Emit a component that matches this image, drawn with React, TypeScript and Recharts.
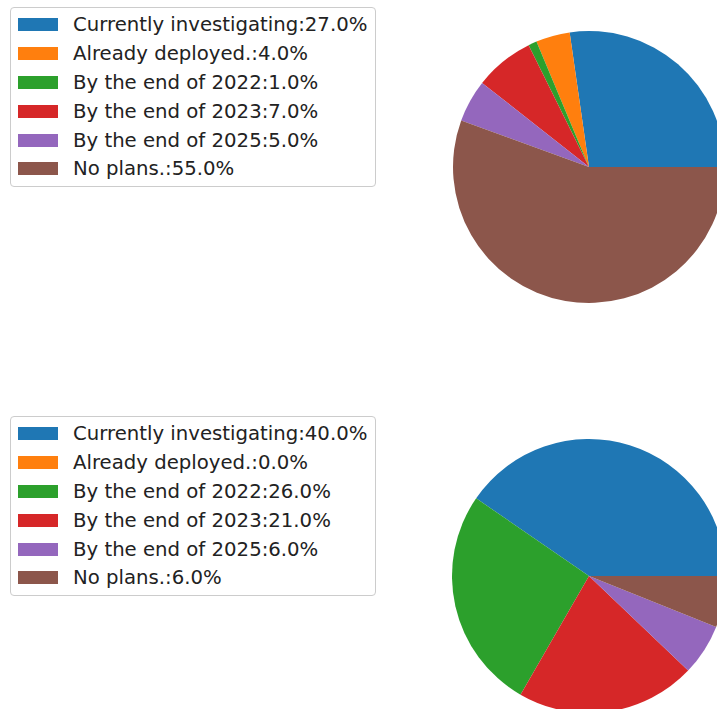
import React from "react";
import { PieChart, Pie, Cell, Legend } from "recharts";

const categories = [
  "Currently investigating",
  "Already deployed.",
  "By the end of 2022",
  "By the end of 2023",
  "By the end of 2025",
  "No plans.",
];
const valuesTop = [27.0, 4.0, 1.0, 7.0, 5.0, 55.0];
const valuesBottom = [40.0, 0.0, 26.0, 21.0, 6.0, 6.0];
const colors = ["#1f77b4", "#ff7f0e", "#2ca02c", "#d62728", "#9467bd", "#8c564b"];

const FONT = "'DejaVu Sans', Verdana, sans-serif";

type Row = { name: string; value: number };
const build = (vals: number[]): Row[] =>
  categories.map((c, i) => ({ name: c, value: vals[i] }));

const LegendBox = ({ data }: { data: Row[] }) => (
  <div
    style={{
      border: "1px solid #cccccc",
      borderRadius: 4,
      background: "rgba(255,255,255,0.8)",
      padding: "2px 8px 3px 7px",
      fontFamily: FONT,
      fontSize: 19.7,
      color: "#222",
      width: 349,
      boxSizing: "content-box",
    }}
  >
    {data.map((d, i) => (
      <div key={d.name} style={{ display: "flex", alignItems: "center", height: 28.9, whiteSpace: "nowrap" }}>
        <span style={{ display: "inline-block", width: 40, height: 13, background: colors[i], marginRight: 15, flexShrink: 0 }} />
        <span>{`${d.name}:${d.value.toFixed(1)}%`}</span>
      </div>
    ))}
  </div>
);

const OnePie = ({ vals, height, cy, r, legendTop }: { vals: number[]; height: number; cy: number; r: number; legendTop: number }) => {
  const data = build(vals);
  return (
    <PieChart width={717} height={height} margin={{ top: 0, right: 0, bottom: 0, left: 0 }}>
      <Pie
        data={data}
        dataKey="value"
        nameKey="name"
        cx={589}
        cy={cy}
        outerRadius={r}
        innerRadius={0}
        startAngle={0}
        endAngle={360}
        stroke="none"
        isAnimationActive={false}
      >
        {data.map((d, i) => (
          <Cell key={d.name} fill={colors[i]} />
        ))}
      </Pie>
      <Legend
        content={() => <LegendBox data={data} />}
        wrapperStyle={{ position: "absolute", left: 10, top: legendTop, width: "auto" }}
      />
    </PieChart>
  );
};

export default function App() {
  return (
    <div style={{ position: "absolute", left: 0, top: 0, width: 717, height: 709, overflow: "hidden", background: "#fff" }}>
      <OnePie vals={valuesTop} height={409} cy={167} r={136} legendTop={7} />
      <OnePie vals={valuesBottom} height={300} cy={167} r={137} legendTop={7} />
    </div>
  );
}
